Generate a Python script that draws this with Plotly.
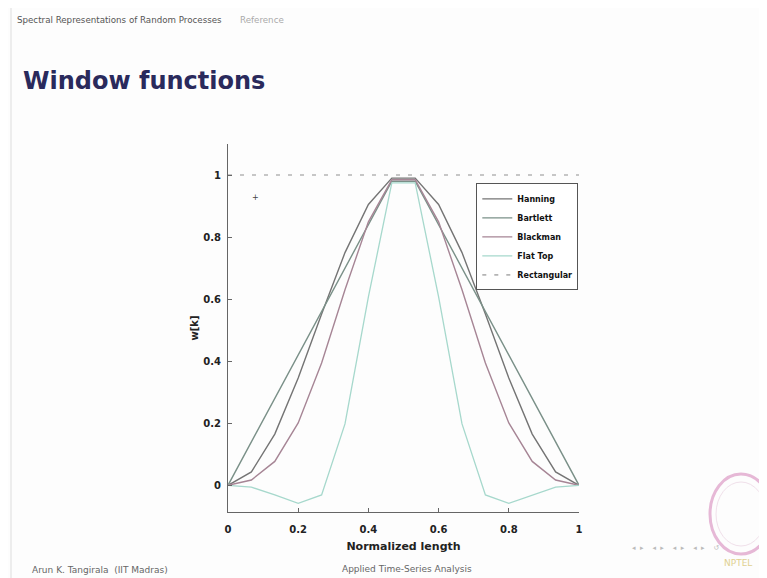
import plotly.graph_objects as go

# Normalized length positions (16 samples)
x_norm = [0.0, 0.0667, 0.1333, 0.2, 0.2667, 0.3333, 0.4, 0.4667,
          0.5333, 0.6, 0.6667, 0.7333, 0.8, 0.8667, 0.9333, 1.0]
hanning = [0.0, 0.043, 0.165, 0.346, 0.552, 0.75, 0.905, 0.99,
           0.99, 0.905, 0.75, 0.552, 0.346, 0.165, 0.043, 0.0]
bartlett = [0.0, 0.14, 0.28, 0.42, 0.56, 0.70, 0.84, 0.98,
            0.98, 0.84, 0.70, 0.56, 0.42, 0.28, 0.14, 0.0]
blackman = [0.0, 0.017, 0.077, 0.201, 0.394, 0.63, 0.849, 0.985,
            0.985, 0.849, 0.63, 0.394, 0.201, 0.077, 0.017, 0.0]
flattop = [0.0, -0.006, -0.031, -0.058, -0.031, 0.198, 0.607, 0.975,
           0.975, 0.607, 0.198, -0.031, -0.058, -0.031, -0.006, 0.0]
rect_x = [0.0, 1.0]
rectangular = [1.0, 1.0]

x_ticks = [0, 0.2, 0.4, 0.6, 0.8, 1]
x_tick_labels = ["0", "0.2", "0.4", "0.6", "0.8", "1"]
y_ticks = [0, 0.2, 0.4, 0.6, 0.8, 1]
y_tick_labels = ["0", "0.2", "0.4", "0.6", "0.8", "1"]

fig = go.Figure()
fig.add_trace(go.Scatter(x=x_norm, y=hanning, mode="lines", name="<b>Hanning</b>",
                         line=dict(color="#747474", width=1.4)))
fig.add_trace(go.Scatter(x=x_norm, y=bartlett, mode="lines", name="<b>Bartlett</b>",
                         line=dict(color="#7a9088", width=1.4)))
fig.add_trace(go.Scatter(x=x_norm, y=blackman, mode="lines", name="<b>Blackman</b>",
                         line=dict(color="#a68595", width=1.4)))
fig.add_trace(go.Scatter(x=x_norm, y=flattop, mode="lines", name="<b>Flat Top</b>",
                         line=dict(color="#a6d8cc", width=1.3)))
fig.add_trace(go.Scatter(x=rect_x, y=rectangular, mode="lines", name="<b>Rectangular</b>",
                         line=dict(color="#b4b4b4", width=1.6, dash="4px,8px")))

# The page body adds an 8px offset; the figure fills the rest of the window.
fig.update_layout(
    width=759, height=570,
    margin=dict(l=220, r=188, t=136, b=66),
    paper_bgcolor="#fdfdfd", plot_bgcolor="#fdfdfd",
    font=dict(family="DejaVu Sans", color="#222222"),
    showlegend=True,
    legend=dict(x=0.998, xanchor="right", y=0.893, yanchor="top",
                bgcolor="#ffffff", bordercolor="#555555", borderwidth=1,
                font=dict(size=8, color="#111111", family="DejaVu Sans"),
                tracegroupgap=0, itemwidth=30),
)
fig.update_xaxes(range=[0, 1], tickvals=x_ticks,
                 ticktext=["<b>%s</b>" % t for t in x_tick_labels],
                 showgrid=False, zeroline=False, showline=True,
                 linecolor="#666666", linewidth=1, ticks="inside", ticklen=4,
                 tickcolor="#666666", ticklabelstandoff=8,
                 tickfont=dict(size=10, color="#222222", family="DejaVu Sans"),
                 title=dict(text="<b>Normalized length</b>", standoff=8,
                            font=dict(size=11, color="#222222")))
fig.update_yaxes(range=[-0.086, 1.1], tickvals=y_ticks,
                 ticktext=["<b>%s</b>" % t for t in y_tick_labels],
                 showgrid=False, zeroline=False, showline=True,
                 linecolor="#666666", linewidth=1, ticks="inside", ticklen=4,
                 tickcolor="#666666", ticklabelstandoff=4,
                 tickfont=dict(size=10, color="#222222", family="DejaVu Sans"),
                 title=dict(text="<b>w[k]</b>", standoff=2,
                            font=dict(size=10, color="#222222")))


def px(xp, yp):
    """Window pixel position -> paper coordinates of the plot area."""
    return (xp - 228) / 351.0, (512 - yp) / 368.0


items = [
    ("Spectral Representations of Random Processes", 15, 20, 8.7, "#555555", "left"),
    ("Reference", 238, 20, 8.7, "#aaaaaa", "left"),
    ("<b>Window functions</b>", 21, 81, 24, "#2a2a5c", "left"),
    ("Arun K. Tangirala  (IIT Madras)", 30, 570, 9, "#666666", "left"),
    ("Applied Time-Series Analysis", 407, 569, 9, "#666666", "center"),
    ("◂  ▸    ◂  ▸    ◂  ▸    ◂  ▸    ↺", 676, 548, 7, "#bbbbbb", "center"),
    ("NPTEL", 738, 563, 9, "#e0d090", "center"),
]
annotations = []
for text, xp, yp, size, color, align in items:
    ax, ay = px(xp, yp)
    annotations.append(dict(text=text, x=ax, y=ay, xref="paper", yref="paper",
                            xanchor=align, yanchor="middle", showarrow=False,
                            font=dict(size=size, color=color)))
mx, my = px(250, 191)
annotations.append(dict(text="+", x=mx, y=my, xref="paper", yref="paper",
                        showarrow=False, font=dict(size=8, color="#444444")))
fig.update_layout(annotations=annotations)

shapes = []
x0, y0 = px(11, 8)
x1, y1 = px(11, 578)
shapes.append(dict(type="line", xref="paper", yref="paper", x0=x0, y0=y0, x1=x1, y1=y1,
                   line=dict(color="#dddddd", width=1)))
cx0, cy0 = px(710, 474)
cx1, cy1 = px(772, 554)
shapes.append(dict(type="circle", xref="paper", yref="paper", x0=cx0, y0=cy1, x1=cx1, y1=cy0,
                   line=dict(color="#e6b8d6", width=3)))
cx0, cy0 = px(716, 482)
cx1, cy1 = px(766, 546)
shapes.append(dict(type="circle", xref="paper", yref="paper", x0=cx0, y0=cy1, x1=cx1, y1=cy0,
                   line=dict(color="#f0e0ea", width=1)))
fig.update_layout(shapes=shapes)

fig.write_html("out.html")
